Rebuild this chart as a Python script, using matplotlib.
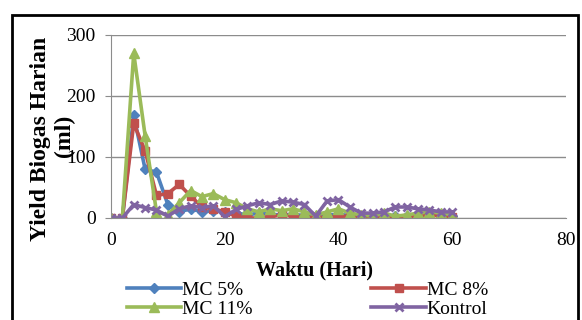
import numpy as np
import matplotlib
matplotlib.use('Agg')
import matplotlib.pyplot as plt
from matplotlib.patches import Rectangle

# daily biogas yield, one point every 2 days
hari = [0, 2, 4, 6, 8, 10, 12, 14, 16, 18, 20, 22, 24, 26, 28, 30,
        32, 34, 36, 38, 40, 42, 44, 46, 48, 50, 52, 54, 56, 58, 60]
mc5 = [0, 0, 168, 80, 75, 22, 10, 15, 10, 12, 10, 8, 5, 8, 6, 5,
       6, 4, 3, 5, 6, 4, 3, 3, 4, 3, 3, 4, 5, 4, 3]
mc8 = [0, 0, 155, 110, 37, 40, 55, 36, 18, 15, 10, 3, 0, 0, 2, 5,
       3, 0, 2, 0, 3, 3, 0, 0, 2, 0, 0, 4, 5, 3, 2]
mc11 = [0, 0, 270, 135, 10, 5, 25, 45, 35, 40, 30, 25, 15, 10, 15, 12,
        15, 10, 5, 10, 15, 8, 5, 3, 8, 3, 5, 8, 10, 8, 5]
kontrol = [0, 0, 22, 17, 13, 3, 15, 20, 17, 20, 2, 14, 20, 25, 22, 28,
           26, 22, 3, 28, 30, 18, 8, 8, 10, 18, 18, 15, 13, 10, 10]

plt.rcParams['font.family'] = ['Liberation Serif', 'DejaVu Serif']

fig = plt.figure(figsize=(5.82, 3.2), dpi=100)
ax = fig.add_axes([0.1907, 0.3188, 0.7818, 0.5719])

l1, = ax.plot(hari, mc5, color='#4F81BD', lw=2.6, marker='D', ms=5)
l2, = ax.plot(hari, mc8, color='#C0504D', lw=2.6, marker='s', ms=6)
l3, = ax.plot(hari, mc11, color='#9BBB59', lw=2.6, marker='^', ms=7)
l4, = ax.plot(hari, kontrol, color='#8064A2', lw=2.6, marker='x', ms=6, mew=2)

ax.set_xlim(0, 80)
ax.set_ylim(0, 300)
ax.set_xticks([0, 20, 40, 60, 80])
ax.set_yticks([0, 100, 200, 300])
ax.yaxis.grid(True, color='#8c8c8c', lw=1)
ax.set_axisbelow(True)
for s in ['top', 'right']:
    ax.spines[s].set_visible(False)
for s in ['left', 'bottom']:
    ax.spines[s].set_color('#8c8c8c')
ax.tick_params(axis='both', labelsize=14, color='#8c8c8c')
ax.tick_params(axis='y', length=4, pad=7)
ax.tick_params(axis='x', length=0, pad=10)

fig.text(0.069, 0.565, 'Yield Biogas Harian', rotation=90, ha='center',
         va='center', fontsize=17, fontweight='bold')
fig.text(0.11, 0.575, '(ml)', rotation=90, ha='center', va='center',
         fontsize=17, fontweight='bold')
fig.text(0.54, 0.155, 'Waktu (Hari)', ha='center', va='center',
         fontsize=14.5, fontweight='bold')

fig.legend([l1, l3, l2, l4], ['MC 5%', 'MC 11%', 'MC 8%', 'Kontrol'],
           ncol=2, loc='upper left', bbox_to_anchor=(0.218, 0.12),
           frameon=False, fontsize=14, handlelength=2.8, handletextpad=0.05,
           columnspacing=6.1, labelspacing=0.05, borderpad=0, borderaxespad=0)

# black chart border
fig.patches.append(Rectangle((12 / 582, -0.1), 566 / 582, 1 - 15 / 320 + 0.1,
                             transform=fig.transFigure, fill=False,
                             edgecolor='black', lw=2))

fig.savefig('out.png', dpi=100)
